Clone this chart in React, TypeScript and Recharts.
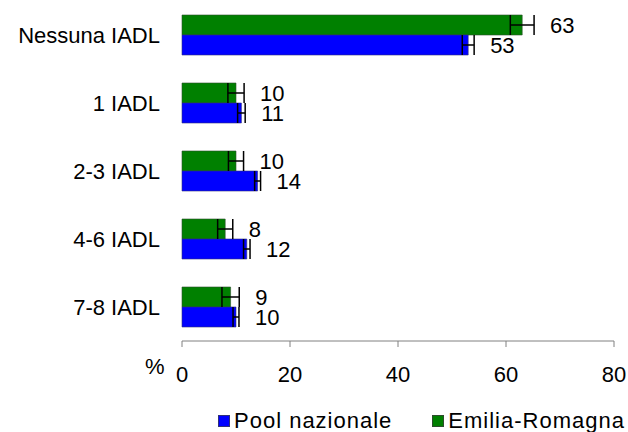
import React from 'react';
import { BarChart, Bar, XAxis, YAxis, ErrorBar } from 'recharts';

const categories = ['Nessuna IADL', '1 IADL', '2-3 IADL', '4-6 IADL', '7-8 IADL'];
const poolValues = [53, 11, 14, 12, 10];
const poolErrors = [1.1, 0.7, 0.55, 0.6, 0.55];
const emiliaValues = [63, 10, 10, 8, 9];
const emiliaErrors = [2.2, 1.5, 1.4, 1.4, 1.6];
const xTicks = [0, 20, 40, 60, 80];

const FONT = '"Liberation Sans", Arial, sans-serif';

const data = categories.map((name, i) => ({
  name,
  pool: poolValues[i],
  poolErr: poolErrors[i],
  emilia: emiliaValues[i],
  emiliaErr: emiliaErrors[i],
}));

function makeLabel(errors: number[]) {
  return (props: any) => {
    const { x, y, width, height, value, index } = props;
    const scale = width / value;
    const errPx = (errors[index] ?? 0) * scale;
    return (
      <text
        x={x + width + errPx + 16}
        y={y + height / 2}
        dominantBaseline="central"
        textAnchor="start"
        fontSize={22}
        fontFamily={FONT}
        fill="#000"
      >
        {value}
      </text>
    );
  };
}

export default function App() {
  return (
    <div style={{ position: 'absolute', left: 0, top: 0, width: 628, height: 432, overflow: 'hidden', fontFamily: FONT, background: '#fff' }}>
      <BarChart
        width={628}
        height={432}
        data={data}
        layout="vertical"
        barGap={0}
        barCategoryGap={14}
        margin={{ top: 1, right: 14, bottom: 31, left: 0 }}
      >
        <XAxis
          type="number"
          domain={[0, 80]}
          ticks={xTicks}
          height={60}
          tickSize={6}
          tickMargin={19}
          stroke="#808080"
          tick={{ fontSize: 22, fill: '#000', fontFamily: FONT }}
        />
        <YAxis
          type="category"
          dataKey="name"
          width={182}
          axisLine={false}
          tickLine={false}
          tickSize={0}
          tickMargin={22}
          tick={{ fontSize: 22, fill: '#000', fontFamily: FONT }}
        />
        <Bar dataKey="emilia" fill="#008000" stroke="#2d4d2d" strokeWidth={0.6} isAnimationActive={false} label={makeLabel(emiliaErrors)}>
          <ErrorBar dataKey="emiliaErr" direction="x" width={10} stroke="#000" strokeWidth={1.5} />
        </Bar>
        <Bar dataKey="pool" fill="#0000ff" stroke="#30307a" strokeWidth={0.6} isAnimationActive={false} label={makeLabel(poolErrors)}>
          <ErrorBar dataKey="poolErr" direction="x" width={10} stroke="#000" strokeWidth={1.5} />
        </Bar>
      </BarChart>
      <span style={{ position: 'absolute', left: 145, top: 356, fontSize: 22, lineHeight: '22px' }}>%</span>
      <div style={{ position: 'absolute', left: 218, top: 410, height: 22, lineHeight: '22px', display: 'flex', alignItems: 'center', fontSize: 22, letterSpacing: 1, whiteSpace: 'nowrap' }}>
        <span style={{ width: 10, height: 10, background: '#0000ff', border: '0.5px solid #30307a', marginRight: 4 }} />
        <span>Pool nazionale</span>
        <span style={{ width: 10, height: 10, background: '#008000', border: '0.5px solid #2d4d2d', marginLeft: 40, marginRight: 4 }} />
        <span>Emilia-Romagna</span>
      </div>
    </div>
  );
}
